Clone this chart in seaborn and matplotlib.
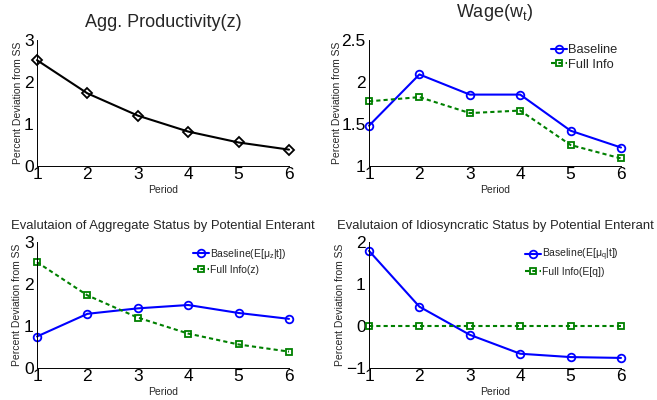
import matplotlib
matplotlib.use("Agg")
import matplotlib.pyplot as plt
import seaborn as sns
import numpy as np

# Impulse responses, percent deviation from steady state
periods = [1, 2, 3, 4, 5, 6]
agg_productivity = [2.52, 1.73, 1.20, 0.82, 0.56, 0.39]
wage_baseline = [1.48, 2.09, 1.85, 1.85, 1.42, 1.22]
wage_full_info = [1.77, 1.82, 1.63, 1.66, 1.25, 1.09]
agg_eval_baseline = [0.75, 1.29, 1.42, 1.50, 1.31, 1.17]
agg_eval_full_info = [2.52, 1.73, 1.20, 0.82, 0.56, 0.39]
idio_eval_baseline = [1.79, 0.46, -0.21, -0.66, -0.74, -0.76]
idio_eval_full_info = [0.0, 0.0, 0.0, 0.0, 0.0, 0.0]

sns.set_style("white")
plt.rcParams["font.family"] = ["Liberation Sans", "DejaVu Sans"]
plt.rcParams["mathtext.fontset"] = "custom"
plt.rcParams["mathtext.rm"] = "Liberation Sans"
plt.rcParams["mathtext.it"] = "Liberation Sans"
plt.rcParams["mathtext.default"] = "regular"

BLUE = "#0000ff"
GREEN = "#008000"
DOTTED = (0, (2, 1.5))

fig = plt.figure(figsize=(6.57, 4.0), dpi=100)
W, H = 657.0, 400.0
rects = {
    "tl": [37 / W, 234 / H, 252 / W, 126 / H],
    "tr": [369 / W, 234 / H, 252 / W, 126 / H],
    "bl": [37 / W, 32 / H, 252 / W, 126 / H],
    "br": [369 / W, 32 / H, 252 / W, 126 / H],
}
axes = {k: fig.add_axes(r) for k, r in rects.items()}


def style_axis(ax, ylim, yticks, ylab_x, title, title_y, title_size):
    ax.set_xlim(1, 6)
    ax.set_ylim(*ylim)
    ax.set_xticks(periods)
    ax.set_yticks(yticks)
    ax.set_yticklabels([f"{t:g}".replace("-", "\u2212") for t in yticks])
    for side in ("top", "right"):
        ax.spines[side].set_visible(False)
    for side in ("left", "bottom"):
        ax.spines[side].set_linewidth(0.7)
        ax.spines[side].set_color("black")
    ax.tick_params(axis="both", direction="in", length=2.5, width=0.6,
                   labelsize=12.5, colors="black")
    ax.tick_params(axis="y", pad=2.5)
    ax.tick_params(axis="x", pad=1.0)
    ax.set_xlabel("Period", fontsize=7.5, va="baseline")
    ax.xaxis.set_label_coords(0.5, -0.217)
    ax.set_ylabel("Percent Deviation from SS", fontsize=7.5, va="baseline")
    ax.yaxis.set_label_coords(ylab_x, 0.5)
    ax.set_title(title, fontsize=title_size, y=title_y, pad=0, va="baseline")
    ax.set_facecolor("white")


line_kw = dict(linewidth=1.5, clip_on=False, markeredgewidth=1.3)

# Aggregate productivity
ax = axes["tl"]
sns.lineplot(x=periods, y=agg_productivity, ax=ax, color="black", marker="D",
             markersize=5.5, markerfacecolor="none", markeredgecolor="black",
             **line_kw)
style_axis(ax, (0, 3), [0, 1, 2, 3], -0.065, "Agg. Productivity(z)", 1.103, 13)

# Wage
ax = axes["tr"]
sns.lineplot(x=periods, y=wage_baseline, ax=ax, color=BLUE, marker="o",
             markersize=5.5, markerfacecolor="none", markeredgecolor=BLUE,
             label="Baseline", **line_kw)
sns.lineplot(x=periods, y=wage_full_info, ax=ax, color=GREEN, marker="s",
             markersize=4.2, markerfacecolor="none", markeredgecolor=GREEN,
             linestyle=DOTTED, label="Full Info", **line_kw)
style_axis(ax, (1, 2.5), [1, 1.5, 2, 2.5], -0.115, "Wage(w$_t$)", 1.183, 13)
ax.legend(loc="upper left", bbox_to_anchor=(0.721, 0.965), frameon=False,
          fontsize=9.3, borderpad=0, borderaxespad=0, handlelength=1.24,
          handletextpad=0.1, labelspacing=0.17)

# Aggregate status as evaluated by potential entrants
ax = axes["bl"]
sns.lineplot(x=periods, y=agg_eval_baseline, ax=ax, color=BLUE, marker="o",
             markersize=5.5, markerfacecolor="none", markeredgecolor=BLUE,
             label="Baseline(E[\u03bc$_z$|t])", **line_kw)
sns.lineplot(x=periods, y=agg_eval_full_info, ax=ax, color=GREEN, marker="s",
             markersize=4.2, markerfacecolor="none", markeredgecolor=GREEN,
             linestyle=DOTTED, label="Full Info(z)", **line_kw)
style_axis(ax, (0, 3), [0, 1, 2, 3], -0.067,
           "Evalutaion of Aggregate Status by Potential Enterant", 1.101, 9.4)
ax.legend(loc="upper left", bbox_to_anchor=(0.618, 0.96), frameon=False,
          fontsize=7.5, borderpad=0, borderaxespad=0, handlelength=1.55,
          handletextpad=0.1, labelspacing=0.35)

# Idiosyncratic status as evaluated by potential entrants
ax = axes["br"]
sns.lineplot(x=periods, y=idio_eval_baseline, ax=ax, color=BLUE, marker="o",
             markersize=5.5, markerfacecolor="none", markeredgecolor=BLUE,
             label="Baseline(E[\u03bc$_q$|t])", **line_kw)
sns.lineplot(x=periods, y=idio_eval_full_info, ax=ax, color=GREEN, marker="s",
             markersize=4.2, markerfacecolor="none", markeredgecolor=GREEN,
             linestyle=DOTTED, label="Full Info(E[q])", **line_kw)
style_axis(ax, (-1, 2), [-1, 0, 1, 2], -0.103,
           "Evalutaion of Idiosyncratic Status by Potential Enterant", 1.101, 9.4)
ax.legend(loc="upper left", bbox_to_anchor=(0.619, 0.96), frameon=False,
          fontsize=7.5, borderpad=0, borderaxespad=0, handlelength=1.55,
          handletextpad=0.1, labelspacing=0.35)

fig.savefig("out.png", dpi=100, facecolor="white")
